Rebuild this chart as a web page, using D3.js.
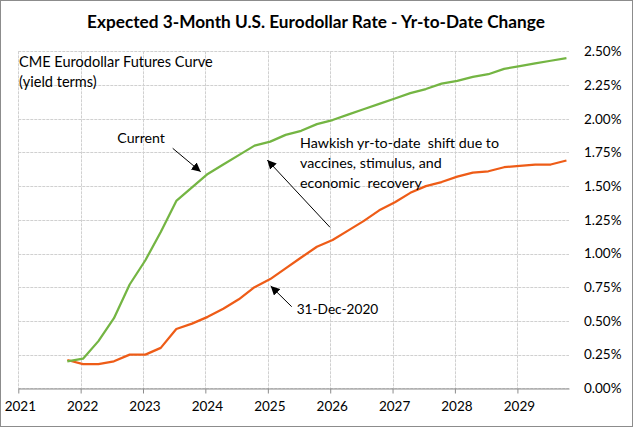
<!DOCTYPE html>
<html>
<head>
<meta charset="utf-8">
<script src="https://cdn.jsdelivr.net/npm/d3@7"></script>
<style>
  html, body { margin: 0; padding: 0; background: #fff; }
  svg text { font-family: Lato, "Noto Sans", sans-serif; fill: #000; white-space: pre; }
</style>
</head>
<body>
<svg id="chart" width="633" height="427"></svg>
<script>
// ---- data ----
const contractDates = [
  "2021-10-15","2022-01-15","2022-04-15","2022-07-15","2022-10-15",
  "2023-01-15","2023-04-15","2023-07-15","2023-10-15",
  "2024-01-15","2024-04-15","2024-07-15","2024-10-15",
  "2025-01-15","2025-04-15","2025-07-15","2025-10-15",
  "2026-01-15","2026-04-15","2026-07-15","2026-10-15",
  "2027-01-15","2027-04-15","2027-07-15","2027-10-15",
  "2028-01-15","2028-04-15","2028-07-15","2028-10-15",
  "2029-01-15","2029-04-15","2029-07-15","2029-10-15"
];
const currentCurve = [0.20,0.22,0.35,0.52,0.77,0.95,1.16,1.39,1.49,1.59,1.66,1.73,1.80,1.83,1.88,1.91,1.96,1.99,2.03,2.07,2.11,2.15,2.19,2.22,2.26,2.28,2.31,2.33,2.37,2.39,2.41,2.43,2.45];
const dec2020Curve = [0.21,0.18,0.18,0.20,0.25,0.25,0.30,0.44,0.48,0.53,0.59,0.66,0.75,0.81,0.89,0.97,1.05,1.10,1.17,1.24,1.32,1.38,1.45,1.50,1.53,1.57,1.60,1.61,1.64,1.65,1.66,1.66,1.69];
const yearTicks = [2021,2022,2023,2024,2025,2026,2027,2028,2029];
const rateTicks = [0,0.25,0.5,0.75,1.0,1.25,1.5,1.75,2.0,2.25,2.5];
const titleText = "Expected 3-Month U.S. Eurodollar Rate - Yr-to-Date Change";

// ---- setup ----
const svg = d3.select("#chart");
const parse = d3.timeParse("%Y-%m-%d");
const dates = contractDates.map(parse);

const x = d3.scaleTime()
  .domain([new Date(2021,0,1), new Date(2029,9,30)])
  .range([18.3, 569]);
const y = d3.scaleLinear().domain([0, 2.5]).range([388.3, 51.3]);

// outer border
svg.append("rect").attr("x",0.5).attr("y",0.5).attr("width",632).attr("height",426)
  .attr("fill","#fff").attr("stroke","#8c8c8c").attr("stroke-width",1);

function fit(sel, target) {
  const w = sel.node().getComputedTextLength();
  const fs = parseFloat(sel.attr("font-size"));
  sel.attr("font-size", (fs * target / w).toFixed(2));
}

// title
const title = svg.append("text").attr("x",316).attr("y",27.5).attr("text-anchor","middle")
  .attr("font-size",17).attr("font-weight","bold").text(titleText);
fit(title, 458);

// gridlines
const grid = svg.append("g");
grid.selectAll("line.h").data(rateTicks).join("line")
  .attr("x1", 18.3).attr("x2", 569)
  .attr("y1", d => Math.round(y(d))+0.5).attr("y2", d => Math.round(y(d))+0.5)
  .attr("stroke", "#d0d0d0").attr("stroke-width",1).attr("stroke-dasharray","3,1");
grid.selectAll("line.v").data(yearTicks).join("line")
  .attr("x1", d => Math.round(x(new Date(d,0,1)))+0.5).attr("x2", d => Math.round(x(new Date(d,0,1)))+0.5)
  .attr("y1", y(2.5)).attr("y2", y(0))
  .attr("stroke", "#d0d0d0").attr("stroke-width",1).attr("stroke-dasharray","3,1");

// x axis
const xAxis = d3.axisBottom(x)
  .tickValues(yearTicks.map(d => new Date(d,0,1)))
  .tickFormat(d3.timeFormat("%Y"))
  .tickSizeInner(5).tickSizeOuter(0).tickPadding(8);
const gx = svg.append("g").attr("transform", `translate(0,${Math.round(y(0))+0.5})`).call(xAxis);
gx.select(".domain").attr("stroke","#8c8c8c");
gx.selectAll(".tick line").attr("stroke","#8c8c8c");
gx.selectAll(".tick text").attr("font-size",13.5).attr("font-family","Lato, sans-serif")
  .attr("fill","#000").attr("dx",1.5);

// y axis (right, labels only)
const yAxis = d3.axisRight(y).tickValues(rateTicks).tickFormat(d3.format(".2%"))
  .tickFormat(d => d3.format(".2f")(d) + "%").tickSize(0).tickPadding(15);
const gy = svg.append("g").attr("transform","translate(569,0)").call(yAxis);
gy.select(".domain").remove();
gy.selectAll(".tick text").attr("font-size",13.5).attr("font-family","Lato, sans-serif").attr("fill","#000");

// lines
const line = d3.line().x((d,i) => x(dates[i])).y(d => y(d));
svg.append("path").datum(dec2020Curve).attr("d", line)
  .attr("fill","none").attr("stroke","#ee5c17").attr("stroke-width",2.25).attr("stroke-linejoin","round");
svg.append("path").datum(currentCurve).attr("d", line)
  .attr("fill","none").attr("stroke","#74b543").attr("stroke-width",2.25).attr("stroke-linejoin","round");

// arrowhead marker
svg.append("defs").append("marker").attr("id","arr")
  .attr("viewBox","0 0 10 10").attr("refX",10).attr("refY",5)
  .attr("markerWidth",9).attr("markerHeight",9).attr("markerUnits","userSpaceOnUse")
  .attr("orient","auto")
  .append("path").attr("d","M0,0 L10,5 L0,10 Z").attr("fill","#000");

function arrow(x1,y1,x2,y2){
  svg.append("line").attr("x1",x1).attr("y1",y1).attr("x2",x2).attr("y2",y2)
    .attr("stroke","#000").attr("stroke-width",1).attr("marker-end","url(#arr)");
}
arrow(172.7,148.3,200.7,171.7);
arrow(330,227.3,267.3,160);
arrow(291.7,306.7,270.7,286);

// annotations
const a1 = svg.append("text").attr("x",19).attr("y",67).attr("font-size",13.5).text("CME Eurodollar Futures Curve");
fit(a1, 194);
svg.append("text").attr("x",19).attr("y",87).attr("font-size",a1.attr("font-size")).text("(yield terms)");

const c = svg.append("text").attr("x",117.3).attr("y",143).attr("font-size",13.5).text("Current");
fit(c, 47.7);

const h1 = svg.append("text").attr("x",300).attr("y",147.5).attr("font-size",13.5).text("Hawkish yr-to-date  shift due to");
fit(h1, 199);
const hs = h1.attr("font-size");
svg.append("text").attr("x",300).attr("y",167.5).attr("font-size",hs).text("vaccines, stimulus, and");
svg.append("text").attr("x",300).attr("y",187.5).attr("font-size",hs).text("economic  recovery");

const d1 = svg.append("text").attr("x",296.7).attr("y",313.5).attr("font-size",13.5).text("31-Dec-2020");
fit(d1, 81.6);
</script>
</body>
</html>
